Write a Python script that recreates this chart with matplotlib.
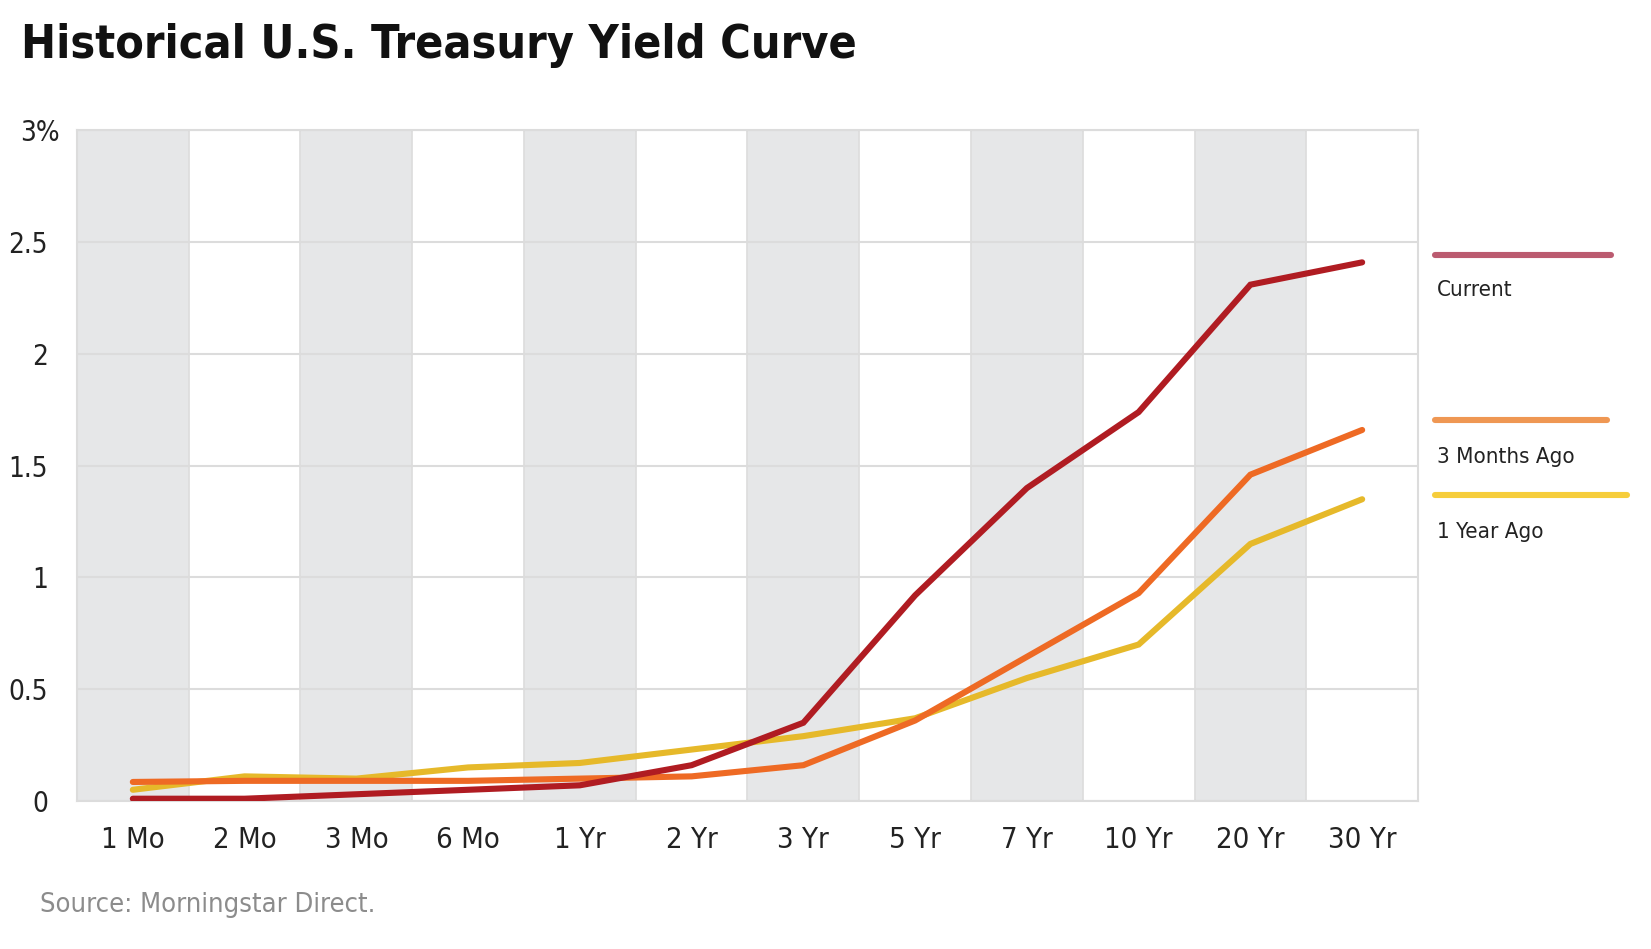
import matplotlib
matplotlib.use("Agg")
import matplotlib.pyplot as plt
from matplotlib.lines import Line2D
from matplotlib.transforms import ScaledTranslation

# ---- data ----
maturities = ["1 Mo", "2 Mo", "3 Mo", "6 Mo", "1 Yr", "2 Yr", "3 Yr", "5 Yr", "7 Yr", "10 Yr", "20 Yr", "30 Yr"]
current = [0.01, 0.01, 0.03, 0.05, 0.07, 0.16, 0.35, 0.92, 1.40, 1.74, 2.31, 2.41]
three_months_ago = [0.085, 0.09, 0.09, 0.09, 0.10, 0.11, 0.16, 0.36, 0.645, 0.93, 1.46, 1.66]
one_year_ago = [0.05, 0.11, 0.10, 0.15, 0.17, 0.23, 0.29, 0.37, 0.55, 0.70, 1.15, 1.35]
series_names = ["Current", "3 Months Ago", "1 Year Ago"]
y_ticks = [0, 0.5, 1, 1.5, 2, 2.5, 3]
y_tick_labels = ["0", "0.5", "1", "1.5", "2", "2.5", "3%"]

line_colors = ["#b01c22", "#ee6a24", "#e6b92a"]
legend_colors = ["#bb5b70", "#ef9753", "#f6cd3b"]

plt.rcParams["font.family"] = ["DejaVu Sans"]
plt.rcParams["font.stretch"] = "condensed"

fig = plt.figure(figsize=(16.51, 9.49), dpi=100)
ax = fig.add_axes([0.0466, 0.156, 0.8123, 0.7065])

n = len(maturities)
x = list(range(n))

# alternating column bands
for i in range(n):
    if i % 2 == 0:
        ax.axvspan(i - 0.5, i + 0.5, color="#e6e7e8", lw=0, zorder=0)
for i in range(n + 1):
    ax.axvline(i - 0.5, color="#dedede", lw=1.3, zorder=0.5)
for yv in y_ticks:
    ax.axhline(yv, color="#dcdcdc", lw=1.5, zorder=0.6)

for vals, c in zip([current, three_months_ago, one_year_ago][::-1], line_colors[::-1]):
    ax.plot(x, vals, color=c, lw=4.4, solid_capstyle="round", solid_joinstyle="miter", zorder=3)

ax.set_xlim(-0.5, n - 0.5)
ax.set_ylim(0, 3)
ax.set_xticks(x)
ax.set_xticklabels(maturities, fontsize=21, color="#222222", fontweight="light")
ax.set_yticks(y_ticks)
ax.set_yticklabels(y_tick_labels, fontsize=20, color="#222222", fontweight="light")
ax.tick_params(axis="both", length=0)
ax.tick_params(axis="x", pad=18)
ax.tick_params(axis="y", pad=21)
for lab in ax.get_yticklabels():
    if lab.get_text().endswith("%"):
        lab.set_transform(lab.get_transform() + ScaledTranslation(12 / 100, 0, fig.dpi_scale_trans))
for s in ax.spines.values():
    s.set_color("#dcdcdc")
    s.set_linewidth(1.5)

# title
fig.text(21 / 1651, 1 - 46 / 949, "Historical U.S. Treasury Yield Curve", fontsize=33.5,
         fontweight="bold", va="center", ha="left", color="#111111")

# legend (custom layout: line above label)
leg_line_y = [255, 420, 495]
leg_line_x1 = [1611, 1607, 1627]
leg_text_y = [290, 457, 532]
for name, c, ly, lx1, ty in zip(series_names, legend_colors, leg_line_y, leg_line_x1, leg_text_y):
    fig.add_artist(Line2D([1435 / 1651, lx1 / 1651], [1 - ly / 949, 1 - ly / 949],
                          transform=fig.transFigure, color=c, lw=4.4, solid_capstyle="round"))
    fig.text(1437 / 1651, 1 - ty / 949, name, fontsize=16, va="center", ha="left", color="#222222")

fig.text(40 / 1651, 1 - 905 / 949, "Source: Morningstar Direct.", fontsize=19.5,
         va="center", ha="left", color="#8c8c8c")

fig.savefig("out.png", dpi=100)
